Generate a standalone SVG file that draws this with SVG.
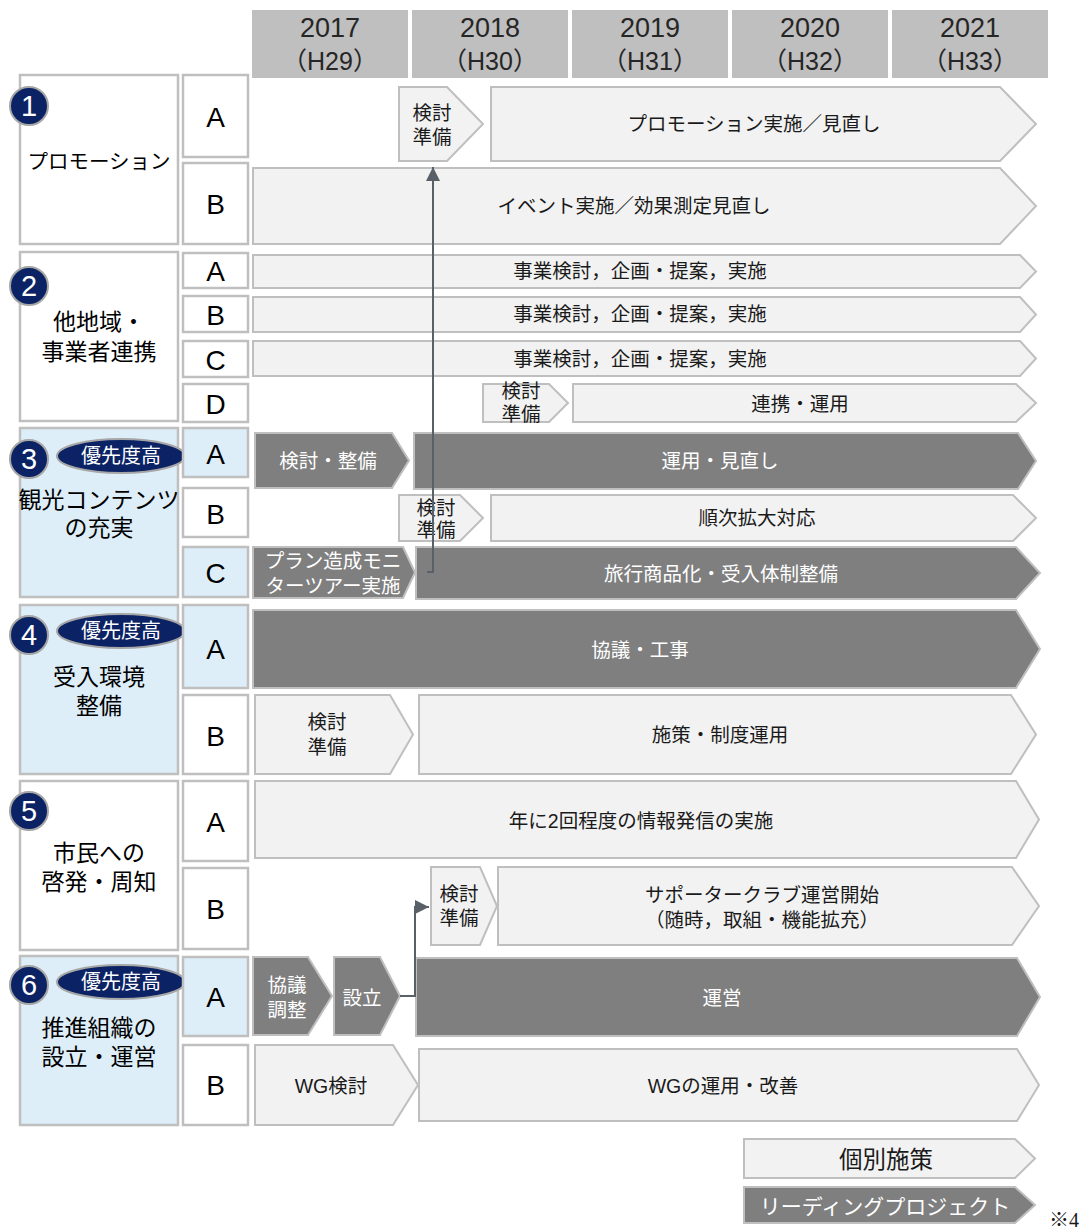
<svg xmlns="http://www.w3.org/2000/svg" width="1080" height="1229" viewBox="0 0 1080 1229">
<defs>
<style>
text{font-family:"Liberation Sans","Noto Sans CJK JP",sans-serif;text-anchor:middle;dominant-baseline:central;fill:#1a1a1a}
.hd{fill:#bfbfbf}
.hy{font-size:27px;fill:#262626}
.sec{fill:#ffffff;stroke:#bfbfbf;stroke-width:2.5}
.secb{fill:#ddeef9;stroke:#bfbfbf;stroke-width:2.5}
.lt{fill:#f2f2f2;stroke:#bfbfbf;stroke-width:2}
.dk{fill:#7f7f7f;stroke:#bfbfbf;stroke-width:2}
.let{font-size:28px;fill:#000}
.sl{font-size:23px;fill:#000}
.bt{font-size:19.5px;fill:#1a1a1a}
.wt{font-size:19.5px;fill:#ffffff}
.badge{fill:#0b2364;stroke:#a6a6a6;stroke-width:2}
.bn{font-size:29px;fill:#ffffff}
.pri{font-size:20px;fill:#ffffff}
.con{fill:none;stroke:#5a6068;stroke-width:2}
</style>
<marker id="ah" viewBox="0 0 10 10" refX="10" refY="5" markerWidth="7" markerHeight="7" orient="auto">
<path d="M0,0 L10,5 L0,10 z" fill="#5a6068"/>
</marker>
</defs>
<rect width="1080" height="1229" fill="#ffffff"/>

<g id="header">
<rect class="hd" x="252" y="10" width="156" height="68"/>
<rect class="hd" x="412" y="10" width="156" height="68"/>
<rect class="hd" x="572" y="10" width="156" height="68"/>
<rect class="hd" x="732" y="10" width="156" height="68"/>
<rect class="hd" x="892" y="10" width="156" height="68"/>
<text class="hy" x="330" y="28">2017</text><text class="hy" x="330" y="61" style="font-size:25px">（H29）</text>
<text class="hy" x="490" y="28">2018</text><text class="hy" x="490" y="61" style="font-size:25px">（H30）</text>
<text class="hy" x="650" y="28">2019</text><text class="hy" x="650" y="61" style="font-size:25px">（H31）</text>
<text class="hy" x="810" y="28">2020</text><text class="hy" x="810" y="61" style="font-size:25px">（H32）</text>
<text class="hy" x="970" y="28">2021</text><text class="hy" x="970" y="61" style="font-size:25px">（H33）</text>
</g>

<g id="sec1">
<rect class="sec" x="20" y="75" width="158" height="169"/>
<circle class="badge" cx="29" cy="106" r="19"/><text class="bn" x="29" y="106">1</text>
<text class="sl" x="99" y="161" style="font-size:20.5px">プロモーション</text>
</g>
<g id="sec2">
<rect class="sec" x="20" y="252" width="158" height="169"/>
<circle class="badge" cx="29" cy="286" r="19"/><text class="bn" x="29" y="286">2</text>
<text class="sl" x="99" y="322">他地域・</text>
<text class="sl" x="99" y="352">事業者連携</text>
</g>
<g id="sec3">
<rect class="secb" x="20" y="428" width="158" height="169"/>
<circle class="badge" cx="29" cy="459" r="19"/><text class="bn" x="29" y="459">3</text>
<ellipse class="badge" cx="121" cy="456" rx="64" ry="17"/><text class="pri" x="121" y="456">優先度高</text>
<text class="sl" x="99" y="500">観光コンテンツ</text>
<text class="sl" x="99" y="528">の充実</text>
</g>
<g id="sec4">
<rect class="secb" x="20" y="605" width="158" height="169"/>
<circle class="badge" cx="29" cy="635" r="19"/><text class="bn" x="29" y="635">4</text>
<ellipse class="badge" cx="121" cy="631" rx="64" ry="17"/><text class="pri" x="121" y="631">優先度高</text>
<text class="sl" x="99" y="677">受入環境</text>
<text class="sl" x="99" y="706">整備</text>
</g>
<g id="sec5">
<rect class="sec" x="20" y="781" width="158" height="169"/>
<circle class="badge" cx="29" cy="811" r="19"/><text class="bn" x="29" y="811">5</text>
<text class="sl" x="99" y="853">市民への</text>
<text class="sl" x="99" y="882">啓発・周知</text>
</g>
<g id="sec6">
<rect class="secb" x="20" y="956" width="158" height="169"/>
<circle class="badge" cx="29" cy="985" r="19"/><text class="bn" x="29" y="985">6</text>
<ellipse class="badge" cx="121" cy="982" rx="64" ry="17"/><text class="pri" x="121" y="982">優先度高</text>
<text class="sl" x="99" y="1028">推進組織の</text>
<text class="sl" x="99" y="1057">設立・運営</text>
</g>

<g id="letters">
<rect class="sec" x="183" y="75" width="65" height="82"/><text class="let" x="215.5" y="117">A</text>
<rect class="sec" x="183" y="163" width="65" height="81"/><text class="let" x="215.5" y="204">B</text>
<rect class="sec" x="183" y="253" width="65" height="35"/><text class="let" x="215.5" y="271">A</text>
<rect class="sec" x="183" y="296" width="65" height="36"/><text class="let" x="215.5" y="315">B</text>
<rect class="sec" x="183" y="341" width="65" height="36"/><text class="let" x="215.5" y="360">C</text>
<rect class="sec" x="183" y="384" width="65" height="38"/><text class="let" x="215.5" y="404">D</text>
<rect class="secb" x="183" y="428" width="65" height="49"/><text class="let" x="215.5" y="454">A</text>
<rect class="sec" x="183" y="488" width="65" height="49"/><text class="let" x="215.5" y="514">B</text>
<rect class="secb" x="183" y="547" width="65" height="50"/><text class="let" x="215.5" y="573">C</text>
<rect class="secb" x="183" y="605" width="65" height="83"/><text class="let" x="215.5" y="649">A</text>
<rect class="sec" x="183" y="695" width="65" height="79"/><text class="let" x="215.5" y="736">B</text>
<rect class="sec" x="183" y="781" width="65" height="80"/><text class="let" x="215.5" y="822">A</text>
<rect class="sec" x="183" y="868" width="65" height="81"/><text class="let" x="215.5" y="909">B</text>
<rect class="secb" x="183" y="957" width="65" height="79"/><text class="let" x="215.5" y="997">A</text>
<rect class="sec" x="183" y="1045" width="65" height="80"/><text class="let" x="215.5" y="1085">B</text>
</g>

<g id="bar-1A">
<polygon class="lt" points="399,87 447,87 483,124 447,161 399,161"/>
<text class="bt" x="432" y="113">検討</text><text class="bt" x="432" y="137">準備</text>
<polygon class="lt" points="491,87 1000,87 1036,124 1000,161 491,161"/>
<text class="bt" x="754" y="124">プロモーション実施／見直し</text>
</g>
<g id="bar-1B">
<polygon class="lt" points="253,168 1000,168 1036,206 1000,244 253,244"/>
<text class="bt" x="634" y="206">イベント実施／効果測定見直し</text>
</g>
<g id="bar-2A">
<polygon class="lt" points="253,255 1020,255 1036,271.5 1020,288 253,288"/>
<text class="bt" x="640" y="271">事業検討，企画・提案，実施</text>
</g>
<g id="bar-2B">
<polygon class="lt" points="253,297 1020,297 1036,314.5 1020,332 253,332"/>
<text class="bt" x="640" y="314">事業検討，企画・提案，実施</text>
</g>
<g id="bar-2C">
<polygon class="lt" points="253,341 1020,341 1036,358.5 1020,376 253,376"/>
<text class="bt" x="640" y="359">事業検討，企画・提案，実施</text>
</g>
<g id="bar-2D">
<polygon class="lt" points="483,384 549,384 568,403 549,422 483,422"/>
<text class="bt" x="521" y="391">検討</text><text class="bt" x="521" y="414">準備</text>
<polygon class="lt" points="573,384 1016,384 1036,403 1016,422 573,422"/>
<text class="bt" x="800" y="404">連携・運用</text>
</g>
<g id="bar-3A">
<polygon class="dk" points="255,433 392,433 409,460.5 392,488 255,488"/>
<text class="wt" x="328" y="461">検討・整備</text>
<polygon class="dk" points="414,433 1018,433 1036,461 1018,489 414,489"/>
<text class="wt" x="720" y="461">運用・見直し</text>
</g>
<g id="bar-3B">
<polygon class="lt" points="399,495 460,495 483,518 460,541 399,541"/>
<text class="bt" x="436" y="508">検討</text><text class="bt" x="436" y="530">準備</text>
<polygon class="lt" points="491,495 1013,495 1036,518 1013,541 491,541"/>
<text class="bt" x="757" y="518">順次拡大対応</text>
</g>
<g id="bar-3C">
<polygon class="dk" points="253,547 403,547 415,572.5 403,598 253,598"/>
<text class="wt" x="333" y="561">プラン造成モニ</text><text class="wt" x="333" y="586">ターツアー実施</text>
<polygon class="dk" points="416,547 1016,547 1040,573 1016,599 416,599"/>
<text class="wt" x="721" y="574">旅行商品化・受入体制整備</text>
</g>
<g id="bar-4A">
<polygon class="dk" points="253,610 1016,610 1040,649 1016,688 253,688"/>
<text class="wt" x="640" y="650">協議・工事</text>
</g>
<g id="bar-4B">
<polygon class="lt" points="255,695 390,695 413,734.5 390,774 255,774"/>
<text class="bt" x="327" y="722">検討</text><text class="bt" x="327" y="747">準備</text>
<polygon class="lt" points="419,695 1011,695 1036,734.5 1011,774 419,774"/>
<text class="bt" x="720" y="735">施策・制度運用</text>
</g>
<g id="bar-5A">
<polygon class="lt" points="255,781 1016,781 1039,819.5 1016,858 255,858"/>
<text class="bt" x="641" y="821">年に2回程度の情報発信の実施</text>
</g>
<g id="bar-5B">
<polygon class="lt" points="431,867 480,867 497,906 480,945 431,945"/>
<text class="bt" x="459" y="894">検討</text><text class="bt" x="459" y="918">準備</text>
<polygon class="lt" points="498,867 1012,867 1039,906 1012,945 498,945"/>
<text class="bt" x="762" y="895">サポータークラブ運営開始</text>
<text class="bt" x="762" y="920">（随時，取組・機能拡充）</text>
</g>
<g id="bar-6A">
<polygon class="dk" points="253,957 308,957 332,996 308,1035 253,1035"/>
<text class="wt" x="287" y="985">協議</text><text class="wt" x="287" y="1010">調整</text>
<polygon class="dk" points="334,957 380,957 400,996 380,1035 334,1035"/>
<text class="wt" x="362" y="998">設立</text>
<polygon class="dk" points="416,958 1017,958 1040,997 1017,1036 416,1036"/>
<text class="wt" x="722" y="998">運営</text>
</g>
<g id="bar-6B">
<polygon class="lt" points="255,1045 393,1045 418,1085 393,1125 255,1125"/>
<text class="bt" x="331" y="1086">WG検討</text>
<polygon class="lt" points="419,1049 1017,1049 1039,1085 1017,1121 419,1121"/>
<text class="bt" x="723" y="1086">WGの運用・改善</text>
</g>

<g id="connectors">
<path class="con" d="M427,572 H433 V167" marker-end="url(#ah)"/>
<path class="con" d="M400,996 H415 V907 H429" marker-end="url(#ah)"/>
</g>

<g id="legend">
<polygon class="lt" points="744,1139 1015,1139 1035,1158.5 1015,1178 744,1178"/>
<text class="bt" x="886" y="1160" style="font-size:23.5px">個別施策</text>
<polygon class="dk" points="744,1187 1015,1187 1035,1205 1015,1223 744,1223"/>
<text class="wt" x="885" y="1206" style="font-size:21px">リーディングプロジェクト</text>
<text x="1049" y="1227" style="font-family:'Liberation Serif','Noto Sans CJK JP',serif;font-size:20px;text-anchor:start;dominant-baseline:auto">※4</text>
</g>
</svg>
